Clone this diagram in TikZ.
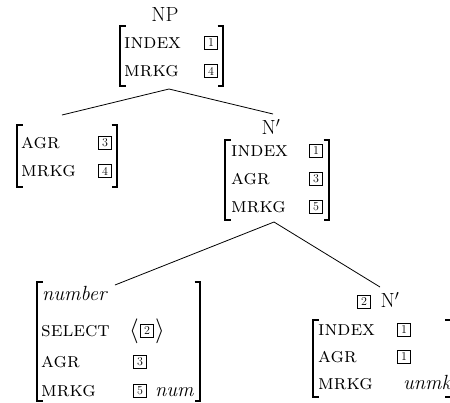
\documentclass[tikz,border=0pt]{standalone}
\newcommand\avmbr[4]{%
  \draw[brk] (#1+5.5,#2) -- (#1,#2) -- (#1,#4) -- (#1+5.5,#4);
  \draw[brk] (#3-5.5,#2) -- (#3,#2) -- (#3,#4) -- (#3-5.5,#4);}
\begin{document}
\begin{tikzpicture}[x=1pt,y=-1pt,
  every node/.style={inner sep=0pt, font=\fontsize{20.5}{24}\selectfont},
  feat/.style={anchor=west, font=\fontsize{21}{24}\selectfont\scshape},
  val/.style={anchor=base west, font=\fontsize{20.5}{24}\selectfont\itshape},
  tagb/.style={draw, line width=0.75pt, minimum width=12.5pt, minimum height=12.5pt, inner sep=0pt, font=\fontsize{12}{12}\selectfont},
  ang/.style={font=\fontsize{25}{25}\selectfont},
  brk/.style={line width=1.1pt},
  edge/.style={line width=0.8pt}]
\useasboundingbox (0,0) rectangle (450,402);
\clip (0,0) rectangle (450,402);
% top NP
\node (np) at (165,14) {NP};
\node[feat] (m1i) at (124,43) {index};
\node[tagb] (m1t1) at (211,43) {1};
\node[feat] (m1m) at (124,71) {mrkg};
\node[tagb] (m1t4) at (211,71) {4};
\avmbr{120}{26}{223}{86}
\coordinate (topapex) at (169,89);
\coordinate (leftend) at (62,115);
\coordinate (rightend) at (273,114);
\draw[edge] (topapex) -- (leftend);
\draw[edge] (topapex) -- (rightend);
% left daughter
\node[feat] (m2a) at (21,143) {agr};
\node[tagb] (m2t3) at (105,143) {3};
\node[feat] (m2m) at (21,171) {mrkg};
\node[tagb] (m2t4) at (105,171) {4};
\avmbr{17}{125}{117}{187}
% N' middle
\node (nbar1) at (271,127) {N$'$};
\node[feat] (m3i) at (231,151) {index};
\node[tagb] (m3t1) at (316,151) {1};
\node[feat] (m3a) at (231,179) {agr};
\node[tagb] (m3t3) at (316,179) {3};
\node[feat] (m3m) at (231,207) {mrkg};
\node[tagb] (m3t5) at (316,207) {5};
\avmbr{225}{140}{329}{220}
\coordinate (midapex) at (274,222);
\coordinate (numend) at (115,285);
\coordinate (nbarend) at (380,287);
\draw[edge] (midapex) -- (numend);
\draw[edge] (midapex) -- (nbarend);
% number
\node[val] (m4n) at (42,300) {number};
\node[feat] (m4s) at (41,331) {select};
\node[ang] (la) at (134,331) {$\langle$};
\node[tagb] (m4t2) at (147,331) {2};
\node[ang] (ra) at (160,331) {$\rangle$};
\node[feat] (m4a) at (41,362) {agr};
\node[tagb] (m4t3) at (140,362) {3};
\node[feat] (m4m) at (41,391) {mrkg};
\node[tagb] (m4t5) at (140,391) {5};
\node[val] (m4num) at (155,396) {num};
\avmbr{37}{282}{200}{401}
% 2 N'
\node[tagb] (m5t2) at (364,302) {2};
\node (nbar2) at (390,300) {N$'$};
\node[feat] (m5i) at (318,330) {index};
\node[tagb] (m5t1) at (404,330) {1};
\node[feat] (m5a) at (318,357) {agr};
\node[tagb] (m5t1b) at (404,357) {1};
\node[feat] (m5m) at (318,384) {mrkg};
\node[val] (m5u) at (403,389) {unmk};
\avmbr{313}{320}{450.5}{397}
\end{tikzpicture}
\end{document}
